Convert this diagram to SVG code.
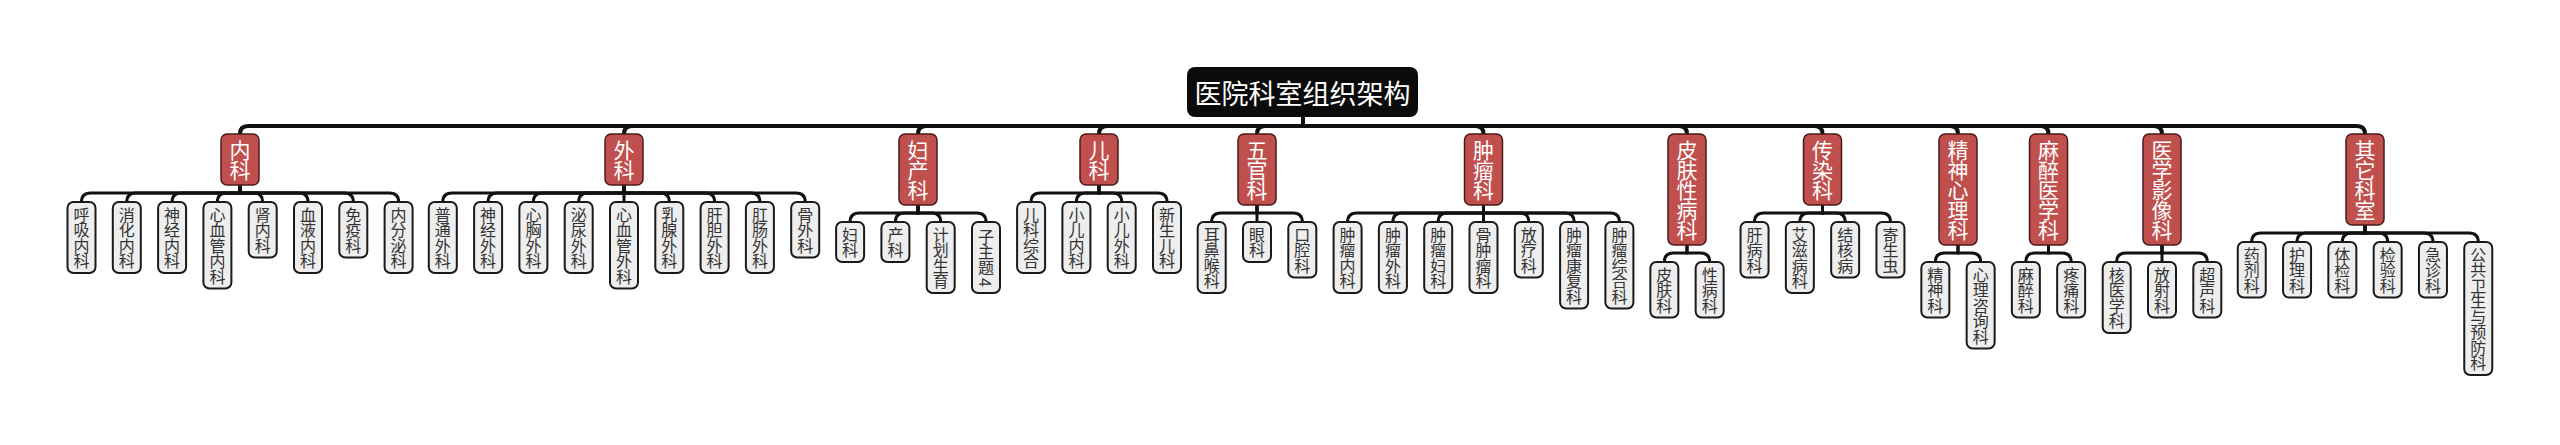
<svg xmlns="http://www.w3.org/2000/svg" width="2560" height="445" viewBox="0 0 2560 445">
<style>
text{font-family:"Noto Sans CJK SC","Noto Sans",sans-serif;text-anchor:middle}
.root rect{fill:#0b0b0b}
.root text{fill:#fff;font-size:27px;dominant-baseline:central}
.dept rect{fill:#c0504d;stroke:#4a1a1a;stroke-width:1.5}
.dept text{fill:#fff;font-size:21px;letter-spacing:-1px;writing-mode:vertical-rl}
.sub rect{fill:#eeeeee;stroke:#1a1a1a;stroke-width:2}
.sub text{fill:#333;font-size:16px;letter-spacing:-0.5px;writing-mode:vertical-rl}
.l1{stroke:#111;stroke-width:4;fill:none}
.l2{stroke:#111;stroke-width:3;fill:none}
</style>
<rect width="2560" height="445" fill="#fff"/>
<g id="connectors">
<path class="l1" d="M1303 117V126"/>
<path class="l1" d="M1303 126H248Q240 126 240 134"/>
<path class="l1" d="M1303 126H632Q624 126 624 134"/>
<path class="l1" d="M1303 126H926Q918 126 918 134"/>
<path class="l1" d="M1303 126H1107Q1099 126 1099 134"/>
<path class="l1" d="M1303 126H1265Q1257 126 1257 134"/>
<path class="l1" d="M1303 126H1475.5Q1483.5 126 1483.5 134"/>
<path class="l1" d="M1303 126H1679Q1687 126 1687 134"/>
<path class="l1" d="M1303 126H1814.5Q1822.5 126 1822.5 134"/>
<path class="l1" d="M1303 126H1950Q1958 126 1958 134"/>
<path class="l1" d="M1303 126H2040.5Q2048.5 126 2048.5 134"/>
<path class="l1" d="M1303 126H2154Q2162 126 2162 134"/>
<path class="l1" d="M1303 126H2357Q2365 126 2365 134"/>
<!-- 内科 -->
<path class="l2" d="M240 185V193H90.5Q81.5 193 81.5 202"/>
<path class="l2" d="M240 185V193H135.8Q126.8 193 126.8 202"/>
<path class="l2" d="M240 185V193H181.1Q172.1 193 172.1 202"/>
<path class="l2" d="M240 185V193H226.4Q217.4 193 217.4 202"/>
<path class="l2" d="M240 185V193H253.7Q262.7 193 262.7 202"/>
<path class="l2" d="M240 185V193H299Q308 193 308 202"/>
<path class="l2" d="M240 185V193H344.3Q353.3 193 353.3 202"/>
<path class="l2" d="M240 185V193H389.6Q398.6 193 398.6 202"/>
<!-- 外科 -->
<path class="l2" d="M624 185V193H451.8Q442.8 193 442.8 202"/>
<path class="l2" d="M624 185V193H497.1Q488.1 193 488.1 202"/>
<path class="l2" d="M624 185V193H542.4Q533.4 193 533.4 202"/>
<path class="l2" d="M624 185V193H587.7Q578.7 193 578.7 202"/>
<path class="l2" d="M624 185V202"/>
<path class="l2" d="M624 185V193H660.3Q669.3 193 669.3 202"/>
<path class="l2" d="M624 185V193H705.6Q714.6 193 714.6 202"/>
<path class="l2" d="M624 185V193H750.9Q759.9 193 759.9 202"/>
<path class="l2" d="M624 185V193H796.2Q805.2 193 805.2 202"/>
<!-- 妇产科 -->
<path class="l2" d="M918 205V213H859.1Q850.1 213 850.1 222"/>
<path class="l2" d="M918 205V213H904.4Q895.4 213 895.4 222"/>
<path class="l2" d="M918 205V213H931.7Q940.7 213 940.7 222"/>
<path class="l2" d="M918 205V213H977Q986 213 986 222"/>
<!-- 儿科 -->
<path class="l2" d="M1099 185V193H1040.1Q1031.1 193 1031.1 202"/>
<path class="l2" d="M1099 185V193H1085.4Q1076.4 193 1076.4 202"/>
<path class="l2" d="M1099 185V193H1112.7Q1121.7 193 1121.7 202"/>
<path class="l2" d="M1099 185V193H1158Q1167 193 1167 202"/>
<!-- 五官科 -->
<path class="l2" d="M1257 205V213H1220.7Q1211.7 213 1211.7 222"/>
<path class="l2" d="M1257 205V222"/>
<path class="l2" d="M1257 205V213H1293.3Q1302.3 213 1302.3 222"/>
<!-- 肿瘤科 -->
<path class="l2" d="M1483.5 205V213H1356.6Q1347.6 213 1347.6 222"/>
<path class="l2" d="M1483.5 205V213H1401.9Q1392.9 213 1392.9 222"/>
<path class="l2" d="M1483.5 205V213H1447.2Q1438.2 213 1438.2 222"/>
<path class="l2" d="M1483.5 205V222"/>
<path class="l2" d="M1483.5 205V213H1519.8Q1528.8 213 1528.8 222"/>
<path class="l2" d="M1483.5 205V213H1565.1Q1574.1 213 1574.1 222"/>
<path class="l2" d="M1483.5 205V213H1610.4Q1619.4 213 1619.4 222"/>
<!-- 皮肤性病科 -->
<path class="l2" d="M1687 245V253H1673.35Q1664.35 253 1664.35 262"/>
<path class="l2" d="M1687 245V253H1700.65Q1709.65 253 1709.65 262"/>
<!-- 传染科 -->
<path class="l2" d="M1822.5 205V213H1763.55Q1754.55 213 1754.55 222"/>
<path class="l2" d="M1822.5 205V213H1808.85Q1799.85 213 1799.85 222"/>
<path class="l2" d="M1822.5 205V213H1836.15Q1845.15 213 1845.15 222"/>
<path class="l2" d="M1822.5 205V213H1881.45Q1890.45 213 1890.45 222"/>
<!-- 精神心理科 -->
<path class="l2" d="M1958 245V253H1944.35Q1935.35 253 1935.35 262"/>
<path class="l2" d="M1958 245V253H1971.65Q1980.65 253 1980.65 262"/>
<!-- 麻醉医学科 -->
<path class="l2" d="M2048.5 245V253H2034.85Q2025.85 253 2025.85 262"/>
<path class="l2" d="M2048.5 245V253H2062.15Q2071.15 253 2071.15 262"/>
<!-- 医学影像科 -->
<path class="l2" d="M2162 245V253H2125.7Q2116.7 253 2116.7 262"/>
<path class="l2" d="M2162 245V262"/>
<path class="l2" d="M2162 245V253H2198.3Q2207.3 253 2207.3 262"/>
<!-- 其它科室 -->
<path class="l2" d="M2365 225V233H2260.75Q2251.75 233 2251.75 242"/>
<path class="l2" d="M2365 225V233H2306.05Q2297.05 233 2297.05 242"/>
<path class="l2" d="M2365 225V233H2351.35Q2342.35 233 2342.35 242"/>
<path class="l2" d="M2365 225V233H2378.65Q2387.65 233 2387.65 242"/>
<path class="l2" d="M2365 225V233H2423.95Q2432.95 233 2432.95 242"/>
<path class="l2" d="M2365 225V233H2469.25Q2478.25 233 2478.25 242"/>
</g>
<g id="root" class="root"><rect x="1187" y="67" width="231" height="50" rx="8"/><text x="1302.5" y="92">医院科室组织架构</text></g>
<g id="d1" class="dept"><rect x="221" y="134" width="38" height="51" rx="6"/><text x="240" y="159.5">内科</text></g>
<g id="d2" class="dept"><rect x="605" y="134" width="38" height="51" rx="6"/><text x="624" y="159.5">外科</text></g>
<g id="d3" class="dept"><rect x="899" y="134" width="38" height="71" rx="6"/><text x="918" y="169.5">妇产科</text></g>
<g id="d4" class="dept"><rect x="1080" y="134" width="38" height="51" rx="6"/><text x="1099" y="159.5">儿科</text></g>
<g id="d5" class="dept"><rect x="1238" y="134" width="38" height="71" rx="6"/><text x="1257" y="169.5">五官科</text></g>
<g id="d6" class="dept"><rect x="1464.5" y="134" width="38" height="71" rx="6"/><text x="1483.5" y="169.5">肿瘤科</text></g>
<g id="d7" class="dept"><rect x="1668" y="134" width="38" height="111" rx="6"/><text x="1687" y="189.5">皮肤性病科</text></g>
<g id="d8" class="dept"><rect x="1803.5" y="134" width="38" height="71" rx="6"/><text x="1822.5" y="169.5">传染科</text></g>
<g id="d9" class="dept"><rect x="1939" y="134" width="38" height="111" rx="6"/><text x="1958" y="189.5">精神心理科</text></g>
<g id="d10" class="dept"><rect x="2029.5" y="134" width="38" height="111" rx="6"/><text x="2048.5" y="189.5">麻醉医学科</text></g>
<g id="d11" class="dept"><rect x="2143" y="134" width="38" height="111" rx="6"/><text x="2162" y="189.5">医学影像科</text></g>
<g id="d12" class="dept"><rect x="2346" y="134" width="38" height="91" rx="6"/><text x="2365" y="179.5">其它科室</text></g>

<g id="s1-1" class="sub"><rect x="67.5" y="202" width="28" height="71" rx="6"/><text x="81.5" y="237.5">呼吸内科</text></g>
<g id="s1-2" class="sub"><rect x="112.8" y="202" width="28" height="71" rx="6"/><text x="126.8" y="237.5">消化内科</text></g>
<g id="s1-3" class="sub"><rect x="158.1" y="202" width="28" height="71" rx="6"/><text x="172.1" y="237.5">神经内科</text></g>
<g id="s1-4" class="sub"><rect x="203.4" y="202" width="28" height="86.5" rx="6"/><text x="217.4" y="245.25">心血管内科</text></g>
<g id="s1-5" class="sub"><rect x="248.7" y="202" width="28" height="55.5" rx="6"/><text x="262.7" y="229.75">肾内科</text></g>
<g id="s1-6" class="sub"><rect x="294" y="202" width="28" height="71" rx="6"/><text x="308" y="237.5">血液内科</text></g>
<g id="s1-7" class="sub"><rect x="339.3" y="202" width="28" height="55.5" rx="6"/><text x="353.3" y="229.75">免疫科</text></g>
<g id="s1-8" class="sub"><rect x="384.6" y="202" width="28" height="71" rx="6"/><text x="398.6" y="237.5">内分泌科</text></g>

<g id="s2-1" class="sub"><rect x="428.8" y="202" width="28" height="71" rx="6"/><text x="442.8" y="237.5">普通外科</text></g>
<g id="s2-2" class="sub"><rect x="474.1" y="202" width="28" height="71" rx="6"/><text x="488.1" y="237.5">神经外科</text></g>
<g id="s2-3" class="sub"><rect x="519.4" y="202" width="28" height="71" rx="6"/><text x="533.4" y="237.5">心胸外科</text></g>
<g id="s2-4" class="sub"><rect x="564.7" y="202" width="28" height="71" rx="6"/><text x="578.7" y="237.5">泌尿外科</text></g>
<g id="s2-5" class="sub"><rect x="610" y="202" width="28" height="86.5" rx="6"/><text x="624" y="245.25">心血管外科</text></g>
<g id="s2-6" class="sub"><rect x="655.3" y="202" width="28" height="71" rx="6"/><text x="669.3" y="237.5">乳腺外科</text></g>
<g id="s2-7" class="sub"><rect x="700.6" y="202" width="28" height="71" rx="6"/><text x="714.6" y="237.5">肝胆外科</text></g>
<g id="s2-8" class="sub"><rect x="745.9" y="202" width="28" height="71" rx="6"/><text x="759.9" y="237.5">肛肠外科</text></g>
<g id="s2-9" class="sub"><rect x="791.2" y="202" width="28" height="55.5" rx="6"/><text x="805.2" y="229.75">骨外科</text></g>

<g id="s3-1" class="sub"><rect x="836.1" y="222" width="28" height="40" rx="6"/><text x="850.1" y="242">妇科</text></g>
<g id="s3-2" class="sub"><rect x="881.4" y="222" width="28" height="40" rx="6"/><text x="895.4" y="242">产科</text></g>
<g id="s3-3" class="sub"><rect x="926.7" y="222" width="28" height="71" rx="6"/><text x="940.7" y="257.5">计划生育</text></g>
<g id="s3-4" class="sub"><rect x="972" y="222" width="28" height="71" rx="6"/><text x="986" y="257.5">子主题 4</text></g>

<g id="s4-1" class="sub"><rect x="1017.1" y="202" width="28" height="71" rx="6"/><text x="1031.1" y="237.5">儿科综合</text></g>
<g id="s4-2" class="sub"><rect x="1062.4" y="202" width="28" height="71" rx="6"/><text x="1076.4" y="237.5">小儿内科</text></g>
<g id="s4-3" class="sub"><rect x="1107.7" y="202" width="28" height="71" rx="6"/><text x="1121.7" y="237.5">小儿外科</text></g>
<g id="s4-4" class="sub"><rect x="1153" y="202" width="28" height="71" rx="6"/><text x="1167" y="237.5">新生儿科</text></g>

<g id="s5-1" class="sub"><rect x="1197.7" y="222" width="28" height="71" rx="6"/><text x="1211.7" y="257.5">耳鼻喉科</text></g>
<g id="s5-2" class="sub"><rect x="1243" y="222" width="28" height="40" rx="6"/><text x="1257" y="242">眼科</text></g>
<g id="s5-3" class="sub"><rect x="1288.3" y="222" width="28" height="55.5" rx="6"/><text x="1302.3" y="249.75">口腔科</text></g>

<g id="s6-1" class="sub"><rect x="1333.6" y="222" width="28" height="71" rx="6"/><text x="1347.6" y="257.5">肿瘤内科</text></g>
<g id="s6-2" class="sub"><rect x="1378.9" y="222" width="28" height="71" rx="6"/><text x="1392.9" y="257.5">肿瘤外科</text></g>
<g id="s6-3" class="sub"><rect x="1424.2" y="222" width="28" height="71" rx="6"/><text x="1438.2" y="257.5">肿瘤妇科</text></g>
<g id="s6-4" class="sub"><rect x="1469.5" y="222" width="28" height="71" rx="6"/><text x="1483.5" y="257.5">骨肿瘤科</text></g>
<g id="s6-5" class="sub"><rect x="1514.8" y="222" width="28" height="55.5" rx="6"/><text x="1528.8" y="249.75">放疗科</text></g>
<g id="s6-6" class="sub"><rect x="1560.1" y="222" width="28" height="86.5" rx="6"/><text x="1574.1" y="265.25">肿瘤康复科</text></g>
<g id="s6-7" class="sub"><rect x="1605.4" y="222" width="28" height="86.5" rx="6"/><text x="1619.4" y="265.25">肿瘤综合科</text></g>

<g id="s7-1" class="sub"><rect x="1650.35" y="262" width="28" height="55.5" rx="6"/><text x="1664.35" y="289.75">皮肤科</text></g>
<g id="s7-2" class="sub"><rect x="1695.65" y="262" width="28" height="55.5" rx="6"/><text x="1709.65" y="289.75">性病科</text></g>

<g id="s8-1" class="sub"><rect x="1740.55" y="222" width="28" height="55.5" rx="6"/><text x="1754.55" y="249.75">肝病科</text></g>
<g id="s8-2" class="sub"><rect x="1785.85" y="222" width="28" height="71" rx="6"/><text x="1799.85" y="257.5">艾滋病科</text></g>
<g id="s8-3" class="sub"><rect x="1831.15" y="222" width="28" height="55.5" rx="6"/><text x="1845.15" y="249.75">结核病</text></g>
<g id="s8-4" class="sub"><rect x="1876.45" y="222" width="28" height="55.5" rx="6"/><text x="1890.45" y="249.75">寄生虫</text></g>

<g id="s9-1" class="sub"><rect x="1921.35" y="262" width="28" height="55.5" rx="6"/><text x="1935.35" y="289.75">精神科</text></g>
<g id="s9-2" class="sub"><rect x="1966.65" y="262" width="28" height="86.5" rx="6"/><text x="1980.65" y="305.25">心理咨询科</text></g>

<g id="s10-1" class="sub"><rect x="2011.85" y="262" width="28" height="55.5" rx="6"/><text x="2025.85" y="289.75">麻醉科</text></g>
<g id="s10-2" class="sub"><rect x="2057.15" y="262" width="28" height="55.5" rx="6"/><text x="2071.15" y="289.75">疼痛科</text></g>

<g id="s11-1" class="sub"><rect x="2102.7" y="262" width="28" height="71" rx="6"/><text x="2116.7" y="297.5">核医学科</text></g>
<g id="s11-2" class="sub"><rect x="2148" y="262" width="28" height="55.5" rx="6"/><text x="2162" y="289.75">放射科</text></g>
<g id="s11-3" class="sub"><rect x="2193.3" y="262" width="28" height="55.5" rx="6"/><text x="2207.3" y="289.75">超声科</text></g>

<g id="s12-1" class="sub"><rect x="2237.75" y="242" width="28" height="55.5" rx="6"/><text x="2251.75" y="269.75">药剂科</text></g>
<g id="s12-2" class="sub"><rect x="2283.05" y="242" width="28" height="55.5" rx="6"/><text x="2297.05" y="269.75">护理科</text></g>
<g id="s12-3" class="sub"><rect x="2328.35" y="242" width="28" height="55.5" rx="6"/><text x="2342.35" y="269.75">体检科</text></g>
<g id="s12-4" class="sub"><rect x="2373.65" y="242" width="28" height="55.5" rx="6"/><text x="2387.65" y="269.75">检验科</text></g>
<g id="s12-5" class="sub"><rect x="2418.95" y="242" width="28" height="55.5" rx="6"/><text x="2432.95" y="269.75">急诊科</text></g>
<g id="s12-6" class="sub"><rect x="2464.25" y="242" width="28" height="133" rx="6"/><text x="2478.25" y="308.5">公共卫生与预防科</text></g>
</svg>
